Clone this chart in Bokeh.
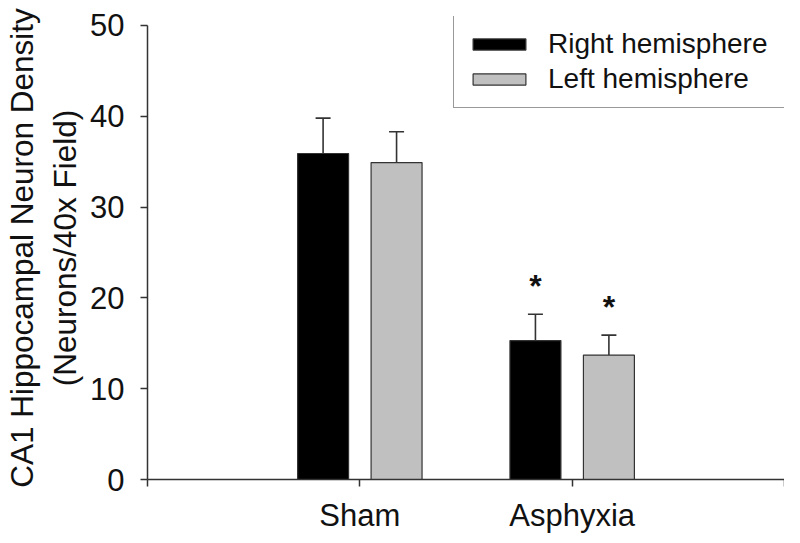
from bokeh.plotting import figure
from bokeh.models import ColumnDataSource, Range1d, FixedTicker, Whisker, TeeHead, Legend, LegendItem
from bokeh.core.properties import value
from bokeh.embed import file_html
from bokeh.resources import INLINE

# ---- data ----
categories = ["Sham", "Asphyxia"]
series_names = ["Right hemisphere", "Left hemisphere"]
right_mean = [35.9, 15.3]
right_sem = [3.9, 2.9]
left_mean = [34.9, 13.7]
left_sem = [3.4, 2.2]
right_sig = [False, True]
left_sig = [False, True]
y_ticks = [0, 10, 20, 30, 40, 50]
y_label = "CA1 Hippocampal Neuron Density\n(Neurons/40x Field)"

FONT = "Liberation Sans"
DARK = "#333333"
TXT = "#111111"
colors = ["#000000", "#c0c0c0"]
offsets = [-0.173, 0.173]
bar_w = 0.24

n = len(categories)
p = figure(width=784, height=535, output_backend="svg", toolbar_location=None,
           x_range=Range1d(0, n + 1), y_range=Range1d(0, 50.99),
           min_border_left=137, min_border_right=0, min_border_top=16, min_border_bottom=56)
p.grid.visible = False
p.outline_line_color = None
p.background_fill_color = "white"

renderers = []
for means, sems, sig, col, off in [(right_mean, right_sem, right_sig, colors[0], offsets[0]),
                                   (left_mean, left_sem, left_sig, colors[1], offsets[1])]:
    xs = [i + 1 + off for i in range(n)]
    src = ColumnDataSource(dict(x=xs, top=means,
                                upper=[m + s for m, s in zip(means, sems)]))
    r = p.vbar(x="x", top="top", bottom=0, width=bar_w, source=src,
               fill_color=col, line_color=DARK, line_width=1.2)
    renderers.append(r)
    w = Whisker(base="x", lower="top", upper="upper", source=src, dimension="height",
                line_color=DARK, line_width=1.6,
                upper_head=TeeHead(size=15, line_color=DARK, line_width=1.6),
                lower_head=None)
    p.add_layout(w)
    sx = [x for x, s in zip(xs, sig) if s]
    sy = [m + s for m, s, g in zip(means, sems, sig) if g]
    p.text(x=sx, y=sy, text=["*"] * len(sx), text_font=value(FONT),
           text_font_style="bold", text_font_size="32px", text_color=TXT,
           text_align="center", text_baseline="alphabetic", y_offset=-28)

# axes
xa = p.xaxis[0]
xa.ticker = FixedTicker(ticks=list(range(0, n + 2)))
xa.major_label_overrides = {0: "", **{i + 1: c for i, c in enumerate(categories)}, n + 1: ""}
ya = p.yaxis[0]
ya.ticker = FixedTicker(ticks=y_ticks)
ya.bounds = (0, 50)
ya.axis_label = y_label

for ax in (xa, ya):
    ax.axis_line_color = DARK
    ax.axis_line_width = 1.5
    ax.major_tick_line_color = DARK
    ax.major_tick_line_width = 1.5
    ax.major_tick_out = 7
    ax.major_tick_in = 0
    ax.minor_tick_line_color = None
    ax.major_label_text_font = FONT
    ax.major_label_text_color = TXT

xa.major_label_text_font_size = "31px"
xa.major_label_standoff = 11
ya.major_label_text_font_size = "31px"
ya.major_label_standoff = 16
ya.axis_label_text_font = FONT
ya.axis_label_text_font_size = "31.5px"
ya.axis_label_text_font_style = "normal"
ya.axis_label_text_color = TXT
ya.axis_label_standoff = 4

legend = Legend(items=[LegendItem(label=series_names[i], renderers=[renderers[i]]) for i in range(2)],
                location=(306, 371), glyph_width=66, glyph_height=14,
                label_text_font=FONT, label_text_font_size="28px", label_text_color=TXT,
                label_standoff=16, label_width=226, padding=12, spacing=3, margin=0,
                border_line_color=DARK, border_line_width=1.5,
                background_fill_color="white", background_fill_alpha=1.0)
p.add_layout(legend)

open("out.html", "w").write(file_html(p, INLINE))
